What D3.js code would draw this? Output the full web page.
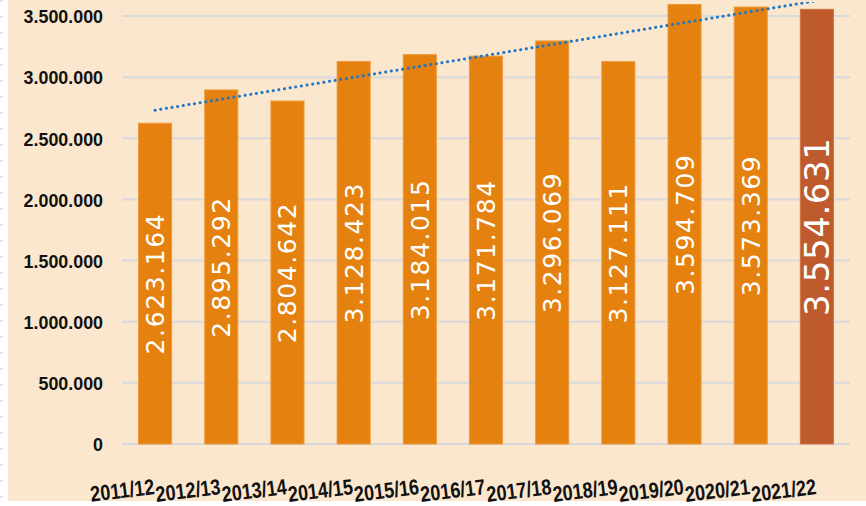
<!DOCTYPE html>
<html><head><meta charset="utf-8">
<script src="https://cdn.jsdelivr.net/npm/d3@7"></script>
<style>html,body{margin:0;padding:0;background:#fff;}svg{display:block;}</style>
</head><body>
<svg id="c" width="866" height="506"></svg>
<script>
const categories = ["2011/12","2012/13","2013/14","2014/15","2015/16","2016/17","2017/18","2018/19","2019/20","2020/21","2021/22"];
const values = [2623164, 2895292, 2804642, 3128423, 3184015, 3171784, 3296069, 3127111, 3594709, 3573369, 3554631];
const yTicks = [0, 500000, 1000000, 1500000, 2000000, 2500000, 3000000, 3500000];

(function(){
const svg = d3.select("#c");
const W = 866, H = 506;
const pLeft = 122, pRight = 850, pTop = 2, zeroY = 444;

// background
svg.append("rect").attr("x",0).attr("y",0).attr("width",W).attr("height",H).attr("fill","#ffffff");
svg.append("rect").attr("x",8).attr("y",0).attr("width",W-8).attr("height",501).attr("fill","#FBE6CE");
// faint dashes along left edge
svg.append("line").attr("x1",1.5).attr("x2",1.5).attr("y1",0).attr("y2",H)
  .attr("stroke","#d8d8d8").attr("stroke-width",2).attr("stroke-dasharray","2 14");

const x = d3.scaleBand().domain(categories).range([pLeft,pRight]).paddingInner(0.5).paddingOuter(0.25);
const y = d3.scaleLinear().domain([0,3500000]).range([zeroY,16]);

const fmt = v => d3.format(",")(v).replace(/,/g,".");

// gridlines
svg.append("g").selectAll("line").data(yTicks).join("line")
  .attr("x1",pLeft).attr("x2",pRight)
  .attr("y1",d=>y(d)).attr("y2",d=>y(d))
  .attr("stroke","#D8D9DC").attr("stroke-width",2);

// y axis labels
const yAxis = d3.axisLeft(y).tickValues(yTicks).tickFormat(fmt).tickSize(0).tickPadding(0);
const ya = svg.append("g").attr("transform","translate(103,0)").call(yAxis);
ya.select(".domain").remove();
ya.selectAll("text").attr("font-family","Liberation Sans, Arial, sans-serif")
  .attr("font-weight","bold").attr("font-size","19px").attr("fill","#111")
  .attr("dy","0.36em")
  .attr("transform","scale(0.94,1)");

// bars
const last = categories.length-1;
svg.append("g").selectAll("rect").data(values).join("rect")
  .attr("x",(d,i)=>x(categories[i]))
  .attr("width",x.bandwidth())
  .attr("y",d=>y(d))
  .attr("height",d=>zeroY-y(d))
  .attr("fill",(d,i)=> i===last ? "#BE5A2C" : "#E5820F")
  .attr("stroke",(d,i)=> i===last ? "#D07545" : "#EE9A3A")
  .attr("stroke-width",1);

// bar labels
svg.append("g").selectAll("text").data(values).join("text")
  .attr("transform",(d,i)=>{
    const cx = x(categories[i]) + x.bandwidth()/2;
    const cy = (y(d)+zeroY)/2;
    return `translate(${cx},${cy}) rotate(-90)`;
  })
  .attr("text-anchor","middle").attr("dy","0.36em")
  .attr("font-family","DejaVu Sans, Verdana, sans-serif")
  .attr("font-size",(d,i)=> i===last ? "34px" : "25px")
  .attr("letter-spacing",(d,i)=> i===last ? "0.6px" : "1.6px")
  .attr("fill","#ffffff")
  .text(d=>fmt(d));

// linear trendline (least squares over category index)
const n = values.length;
const mx = d3.mean(d3.range(n)), my = d3.mean(values);
const slope = d3.sum(values,(v,i)=>(i-mx)*(v-my)) / d3.sum(d3.range(n),i=>(i-mx)*(i-mx));
const icpt = my - slope*mx;
svg.append("clipPath").attr("id","pa").append("rect")
  .attr("x",pLeft).attr("y",pTop).attr("width",pRight-pLeft).attr("height",zeroY-pTop);
const cxs = i => x(categories[i]) + x.bandwidth()/2;
svg.append("line").attr("clip-path","url(#pa)")
  .attr("x1",cxs(0)).attr("y1",y(icpt))
  .attr("x2",cxs(last)).attr("y2",y(icpt+slope*last))
  .attr("stroke","#1F77C4").attr("stroke-width",3)
  .attr("stroke-linecap","round").attr("stroke-dasharray","0.1 5.6");

// x labels
svg.append("g").selectAll("text").data(categories).join("text")
  .attr("transform",(d,i)=>`translate(${cxs(i)},${494}) rotate(-7) scale(0.82,1)`)
  .attr("text-anchor","end")
  .attr("font-family","Liberation Sans, Arial, sans-serif")
  .attr("font-weight","bold").attr("font-size","22px").attr("fill","#111")
  .text(d=>d);
})();
</script>
</body></html>
